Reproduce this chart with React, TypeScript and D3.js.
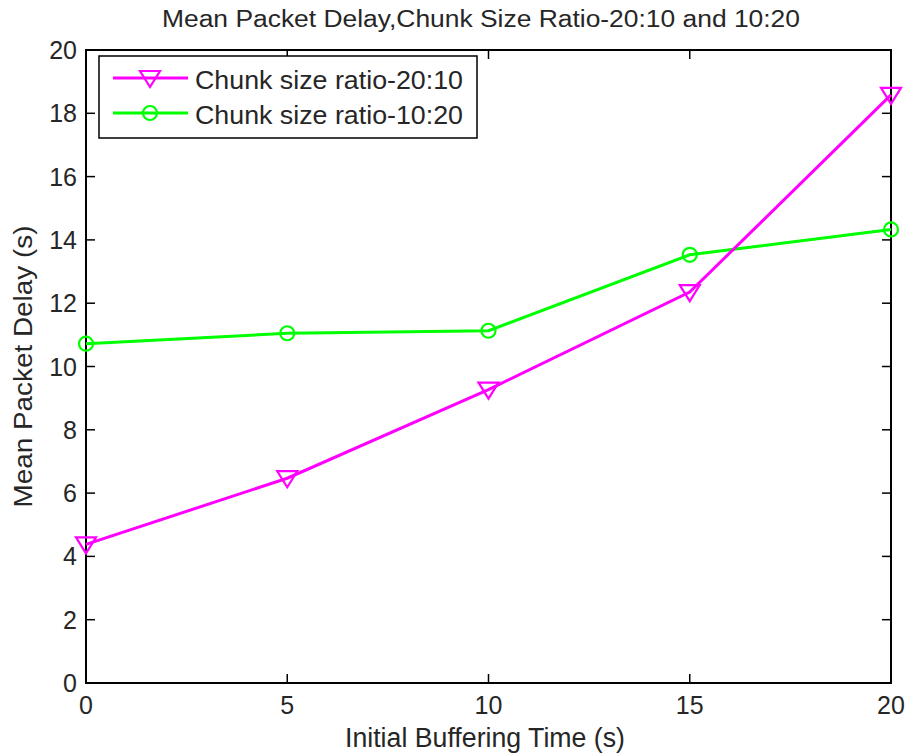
import React from "react";
import * as d3 from "d3";

const xValues = [0, 5, 10, 15, 20];
const seriesA = [4.38, 6.47, 9.27, 12.35, 18.58]; // Chunk size ratio-20:10
const seriesB = [10.72, 11.05, 11.13, 13.53, 14.33]; // Chunk size ratio-10:20
const xTicks = [0, 5, 10, 15, 20];
const yTicks = [0, 2, 4, 6, 8, 10, 12, 14, 16, 18, 20];
const labelA = "Chunk size ratio-20:10";
const labelB = "Chunk size ratio-10:20";
const titleText = "Mean Packet Delay,Chunk Size Ratio-20:10 and 10:20";
const xLabel = "Initial Buffering Time (s)";
const yLabel = "Mean Packet Delay (s)";

const W = 906, H = 755;
const L = 86, R = 891, T = 50, B = 683;
const FONT = "'Liberation Sans', Arial, Helvetica, sans-serif";
const TXT = "#262626";

function Tri({ x, y, color }: { x: number; y: number; color: string }) {
  const p = `${x - 10},${y - 7} ${x + 10},${y - 7} ${x},${y + 9}`;
  return <polygon points={p} fill="none" stroke={color} strokeWidth={2.2} />;
}
function Circ({ x, y, color }: { x: number; y: number; color: string }) {
  return <circle cx={x} cy={y} r={7} fill="none" stroke={color} strokeWidth={2.2} />;
}

export default function App() {
  const xs = d3.scaleLinear().domain([0, 20]).range([L, R]);
  const ys = d3.scaleLinear().domain([0, 20]).range([B, T]);
  const line = d3
    .line<number>()
    .x((_, i) => xs(xValues[i]))
    .y((d) => ys(d));
  const tk = 9;
  return (
    <svg width={W} height={H} style={{ position: "absolute", left: 0, top: 0, background: "#fff" }}>
      <rect x={0} y={0} width={W} height={H} fill="#fff" />
      {/* ticks */}
      {xTicks.map((t) => (
        <g key={"x" + t}>
          <line x1={xs(t)} x2={xs(t)} y1={B} y2={B - tk} stroke="#000" strokeWidth={1.5} />
          <line x1={xs(t)} x2={xs(t)} y1={T} y2={T + tk} stroke="#000" strokeWidth={1.5} />
          <text
            x={xs(t)}
            y={714}
            textAnchor="middle"
            fontFamily={FONT}
            fontSize={25}
            fill={TXT}
          >
            {t}
          </text>
        </g>
      ))}
      {yTicks.map((t) => (
        <g key={"y" + t}>
          <line x1={L} x2={L + tk} y1={ys(t)} y2={ys(t)} stroke="#000" strokeWidth={1.5} />
          <line x1={R} x2={R - tk} y1={ys(t)} y2={ys(t)} stroke="#000" strokeWidth={1.5} />
          <text
            x={77}
            y={ys(t) + 9}
            textAnchor="end"
            fontFamily={FONT}
            fontSize={25}
            fill={TXT}
          >
            {t}
          </text>
        </g>
      ))}
      <rect x={L} y={T} width={R - L} height={B - T} fill="none" stroke="#000" strokeWidth={2} />
      {/* series */}
      <path d={line(seriesB) || ""} fill="none" stroke="#00ff00" strokeWidth={3} />
      <path d={line(seriesA) || ""} fill="none" stroke="#ff00ff" strokeWidth={3} />
      {seriesB.map((v, i) => (
        <Circ key={"b" + i} x={xs(xValues[i])} y={ys(v)} color="#00ff00" />
      ))}
      {seriesA.map((v, i) => (
        <Tri key={"a" + i} x={xs(xValues[i])} y={ys(v)} color="#ff00ff" />
      ))}
      {/* legend */}
      <rect x={99} y={56} width={378} height={82} fill="#fff" stroke="#000" strokeWidth={1.5} />
      <line x1={113} x2={188} y1={78} y2={78} stroke="#ff00ff" strokeWidth={3} />
      <Tri x={150} y={78} color="#ff00ff" />
      <line x1={113} x2={188} y1={113} y2={113} stroke="#00ff00" strokeWidth={3} />
      <Circ x={150} y={113} color="#00ff00" />
      <text x={195} y={89} fontFamily={FONT} fontSize={26} fill={TXT} textLength={268} lengthAdjust="spacingAndGlyphs">
        {labelA}
      </text>
      <text x={195} y={124} fontFamily={FONT} fontSize={26} fill={TXT} textLength={268} lengthAdjust="spacingAndGlyphs">
        {labelB}
      </text>
      {/* title & labels */}
      <text x={481} y={27} textAnchor="middle" fontFamily={FONT} fontSize={23} fill={TXT} textLength={638} lengthAdjust="spacingAndGlyphs">
        {titleText}
      </text>
      <text x={485} y={747} textAnchor="middle" fontFamily={FONT} fontSize={27} fill={TXT} textLength={280} lengthAdjust="spacingAndGlyphs">
        {xLabel}
      </text>
      <text
        transform={`translate(32,${(T + B) / 2}) rotate(-90)`}
        textAnchor="middle"
        fontFamily={FONT}
        fontSize={26}
        fill={TXT}
        textLength={282}
        lengthAdjust="spacingAndGlyphs"
      >
        {yLabel}
      </text>
    </svg>
  );
}
